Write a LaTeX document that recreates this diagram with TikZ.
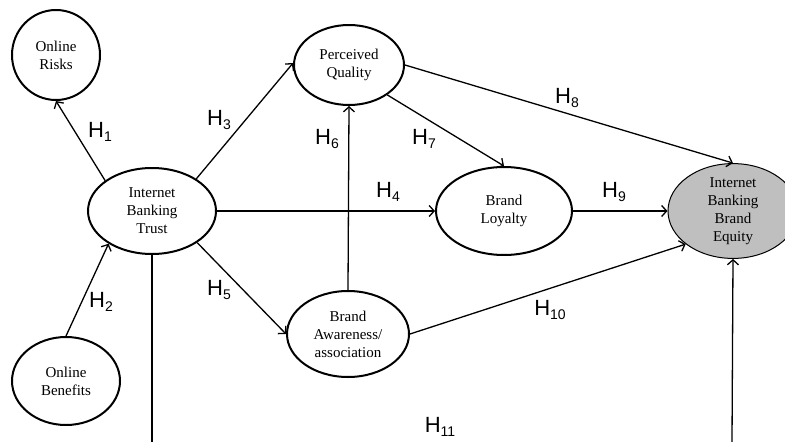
\documentclass[tikz,border=0pt]{standalone}
\usepackage{fontspec}
\setmainfont{Liberation Serif}
\newfontfamily\labelfont{Liberation Sans}
\usetikzlibrary{shapes.geometric,arrows.meta}

\newcommand{\hyp}[1]{H\raisebox{-4pt}{\fontsize{14}{14}\selectfont #1}}

\begin{document}
\begin{tikzpicture}[x=1pt,y=-1pt,
    construct/.style={ellipse,draw,line width=2pt,inner sep=0pt,align=center,
        font=\fontsize{15}{18}\selectfont},
    link/.style={-{Straight Barb[length=5pt,width=11pt]},line width=1.3pt},
    hlabel/.style={font=\labelfont\fontsize{22}{22}\selectfont,inner sep=0pt}]
    \useasboundingbox (0,0) rectangle (785,442);

    % constructs
    \node[construct,minimum width=88,minimum height=90] (risks) at (56,55) {Online\\Risks};
    \node[construct,minimum width=128,minimum height=86] (trust) at (152,211) {Internet\\Banking\\Trust};
    \node[construct,minimum width=108,minimum height=88] (benefits) at (66,381) {Online\\Benefits};
    \node[construct,minimum width=110,minimum height=80] (quality) at (349,65) {Perceived\\Quality};
    \node[construct,minimum width=136,minimum height=88] (loyalty) at (504,211) {Brand\\Loyalty};
    \node[construct,minimum width=122,minimum height=86] (awareness) at (348,334) {Brand\\Awareness/\\association};
    \node[construct,line width=1pt,fill=black!25,minimum width=130,minimum height=90] (equity) at (733,211)
        {Internet\\Banking\\Brand\\Equity};

    % paths
    \draw[link] (trust.147) -- (risks.south);
    \draw[link] (benefits.north) -- (trust.217);
    \draw[link] (trust.36) -- (quality.178);
    \draw[link] (trust.east) -- (loyalty.west);
    \draw[link] (trust.325) -- (awareness.west);
    \draw[link] (awareness.north) -- (quality.south);
    \draw[link] (quality.322) -- (loyalty.north);
    \draw[link] (quality.east) -- (equity.north);
    \draw[link] (loyalty.east) -- (equity.west);
    \draw[link] (awareness.east) -- (equity.215);

    % H11 runs below the frame
    \coordinate (h11a) at (152,442);
    \coordinate (h11b) at (732,442);
    \draw[line width=1.3pt] (trust.south) -- (h11a);
    \draw[link] (h11b) -- (equity.south);

    % hypotheses
    \node[hlabel] (h1) at (100,132) {\hyp{1}};
    \node[hlabel] (h2) at (101,302) {\hyp{2}};
    \node[hlabel] (h3) at (219,120) {\hyp{3}};
    \node[hlabel] (h4) at (388,192) {\hyp{4}};
    \node[hlabel] (h5) at (219,290) {\hyp{5}};
    \node[hlabel] (h6) at (327,139) {\hyp{6}};
    \node[hlabel] (h7) at (424,139) {\hyp{7}};
    \node[hlabel] (h8) at (567,98) {\hyp{8}};
    \node[hlabel] (h9) at (614,192) {\hyp{9}};
    \node[hlabel] (h10) at (550,310) {\hyp{10}};
    \node[hlabel] (h11) at (440,427) {\hyp{11}};
\end{tikzpicture}
\end{document}
